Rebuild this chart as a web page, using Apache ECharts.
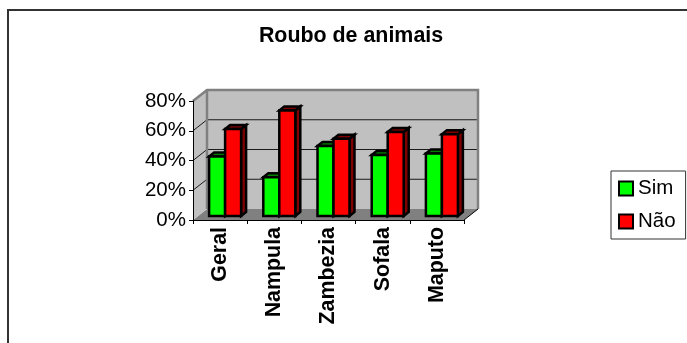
<!DOCTYPE html>
<html>
<head>
<meta charset="utf-8">
<style>html,body{margin:0;padding:0;background:#fff}#c{width:687px;height:343px}</style>
<script src="https://cdn.jsdelivr.net/npm/echarts@6/dist/echarts.min.js"></script>
</head>
<body>
<div id="c"></div>
<script>
var categories = ['Geral', 'Nampula', 'Zambezia', 'Sofala', 'Maputo'];
var sim = [40, 26, 47, 41, 42];
var nao = [58.5, 71, 52, 56.5, 55];
var yTicks = [0, 20, 40, 60, 80];

var DX = 14, DY = -11;      // depth of the 3D box
var BX = 5, BY = -4;        // bar depth & inset
var BAR = 16;

function wallItem(params, api) {
  var x0 = api.coord([0, 0])[0] - api.size([1, 0])[0] / 2;
  var x1 = x0 + api.size([1, 0])[0] * categories.length;
  var y0 = api.coord([0, 0])[1];
  var yTop = api.coord([0, 80])[1];
  var kids = [];
  kids.push({ type: 'polygon', shape: { points: [[x0, y0], [x0 + DX, y0 + DY], [x1 + DX, y0 + DY], [x1, y0]] }, style: { fill: '#808080' } });
  kids.push({ type: 'polygon', shape: { points: [[x0, yTop], [x0 + DX, yTop + DY], [x0 + DX, y0 + DY], [x0, y0]] }, style: { fill: '#c0c0c0' } });
  kids.push({ type: 'rect', shape: { x: x0 + DX, y: yTop + DY, width: x1 - x0, height: y0 - yTop }, style: { fill: '#c0c0c0' } });
  yTicks.forEach(function (v) {
    if (v === 0 || v === 80) return;
    var y = api.coord([0, v])[1];
    kids.push({ type: 'polyline', shape: { points: [[x0, y], [x0 + DX, y + DY], [x1 + DX, y + DY]] }, style: { fill: null, stroke: '#1a1a1a', lineWidth: 1 } });
  });
  // grey wall outline
  kids.push({ type: 'polyline', shape: { points: [[x0, yTop], [x0 + DX, yTop + DY], [x1 + DX, yTop + DY], [x1 + DX, y0 + DY]] }, style: { fill: null, stroke: '#808080', lineWidth: 2.5 } });
  kids.push({ type: 'polyline', shape: { points: [[x0 + DX, yTop + DY], [x0 + DX, y0 + DY]] }, style: { fill: null, stroke: '#808080', lineWidth: 2.5 } });
  kids.push({ type: 'line', shape: { x1: x1, y1: y0, x2: x1 + DX, y2: y0 + DY }, style: { stroke: '#000', lineWidth: 1 } });
  return { type: 'group', children: kids };
}

function barRender(side, face, dark) {
  return function (params, api) {
    var c = api.coord([api.value(0), api.value(1)]);
    var base = api.coord([api.value(0), 0]);
    var xl = c[0] + BX + (side < 0 ? -BAR : 0);
    var xr = xl + BAR;
    var yb = base[1] + BY;
    var yt = c[1] + BY;
    var st = { stroke: '#000', lineWidth: 2.5, lineJoin: 'miter' };
    return {
      type: 'group',
      children: [
        { type: 'polygon', shape: { points: [[xr, yb], [xr + BX, yb + BY], [xr + BX, yt + BY], [xr, yt]] }, style: Object.assign({ fill: dark }, st) },
        { type: 'polygon', shape: { points: [[xl, yt], [xl + BX, yt + BY], [xr + BX, yt + BY], [xr, yt]] }, style: Object.assign({ fill: dark }, st) },
        { type: 'rect', shape: { x: xl, y: yt, width: BAR, height: yb - yt }, style: Object.assign({ fill: face }, st) }
      ]
    };
  };
}

var chart = echarts.init(document.getElementById('c'), null, { renderer: 'canvas' });
chart.setOption({
  animation: false,
  backgroundColor: '#fff',
  textStyle: { fontFamily: '"Liberation Sans", Arial, sans-serif' },
  title: {
    text: 'Roubo de animais',
    left: 346, top: 21, textAlign: 'center',
    textStyle: { fontFamily: '"Liberation Sans", Arial, sans-serif', fontWeight: 'bold', fontSize: 21.4, color: '#000' }
  },
  legend: {
    orient: 'vertical',
    left: 611, top: 171,
    padding: [4, 10, 4, 7],
    itemGap: 6,
    itemWidth: 14, itemHeight: 14,
    icon: 'rect',
    borderColor: '#333', borderWidth: 1, backgroundColor: '#fff',
    itemStyle: { borderColor: '#000', borderWidth: 2 },
    textStyle: { fontFamily: '"Liberation Sans", Arial, sans-serif', fontSize: 20.5, color: '#000', lineHeight: 23, padding: [4, 0, 0, 0] },
    data: ['Sim', 'Não']
  },
  grid: { left: 193, top: 101, width: 271, height: 119, containLabel: false },
  xAxis: {
    type: 'category', data: categories, boundaryGap: true,
    axisLine: { show: true, lineStyle: { color: '#000', width: 1 } },
    axisTick: { show: true, length: 4, alignWithLabel: false, lineStyle: { color: '#000' } },
    axisLabel: { rotate: 90, interval: 0, fontSize: 21.4, fontWeight: 'bold', color: '#000', margin: 7, fontFamily: '"Liberation Sans", Arial, sans-serif' },
    z: 10
  },
  yAxis: {
    type: 'value', min: 0, max: 80, interval: 20,
    axisLine: { show: true, lineStyle: { color: '#000', width: 1 } },
    axisTick: { show: true, length: 4, lineStyle: { color: '#000' } },
    splitLine: { show: false },
    axisLabel: { formatter: '{value}%', fontSize: 20.5, color: '#000', margin: 7, padding: [2, 0, 0, 0], fontFamily: '"Liberation Sans", Arial, sans-serif' },
    z: 10
  },
  series: [
    { type: 'custom', name: 'walls', silent: true, data: [[0, 0]], renderItem: wallItem, z: 1, encode: { x: 0, y: 1 } },
    { type: 'custom', name: 'Sim', itemStyle: { color: '#00ff00' }, renderItem: barRender(-1, '#00ff00', '#008000'), data: sim.map(function (v, i) { return [i, v]; }), z: 2, encode: { x: 0, y: 1 } },
    { type: 'custom', name: 'Não', itemStyle: { color: '#ff0000' }, renderItem: barRender(1, '#ff0000', '#800000'), data: nao.map(function (v, i) { return [i, v]; }), z: 3, encode: { x: 0, y: 1 } }
  ],
  graphic: [
    { type: 'polyline', silent: true, shape: { points: [[8, 343], [8, 10], [687, 10]] }, style: { fill: null, stroke: '#333', lineWidth: 2 } }
  ]
});
</script>
</body>
</html>
